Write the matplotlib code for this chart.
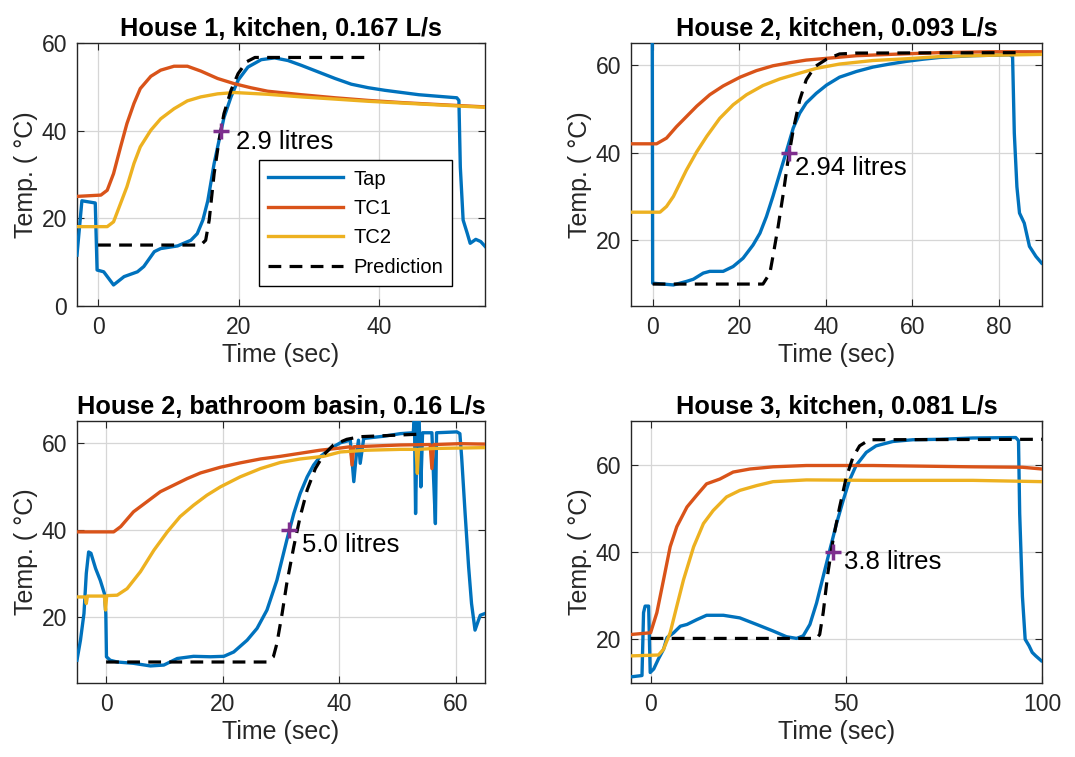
import matplotlib
matplotlib.use("Agg")
import matplotlib.pyplot as plt
import numpy as np

plt.rcParams['font.family'] = ['Liberation Sans', 'DejaVu Sans']

C_TAP = '#0072BD'
C_TC1 = '#D95319'
C_TC2 = '#EDB120'
C_MARK = '#7E2F8E'
C_AX = '#262626'

# ---- House 1, kitchen ----
h1_tap_t = [-3.0, -2.3, -0.4, -0.14, 0.8, 2.2, 3.7, 5.6, 6.5, 8.0, 8.9, 11.3, 13.2, 14.1, 14.9,
            15.6, 16.5, 17.2, 17.9, 18.9, 19.9, 21.3, 23.2, 25.1, 27.0, 28.9, 31.3, 33.7, 36.0,
            38.4, 40.8, 43.2, 45.6, 47.9, 51.0, 51.3, 51.5, 51.9, 52.5, 52.9, 53.7, 54.4, 55.3]
h1_tap_v = [11.6, 24.0, 23.5, 8.2, 7.8, 4.8, 6.7, 7.8, 9.0, 12.4, 13.1, 13.7, 15.0, 16.5, 19.6,
            24.0, 32.5, 37.8, 43.0, 47.7, 51.5, 54.5, 56.2, 56.6, 56.0, 54.9, 53.4, 51.9, 50.6,
            49.8, 49.2, 48.7, 48.2, 47.9, 47.5, 46.9, 31.7, 19.6, 16.5, 14.3, 15.2, 14.7, 13.1]
h1_tc1_t = [-3.0, 0.4, 1.3, 2.2, 3.2, 4.1, 5.1, 6.0, 7.5, 8.9, 10.8, 12.7, 14.6, 17.0, 19.4,
            21.7, 24.1, 26.5, 28.9, 33.7, 38.4, 43.2, 47.9, 55.3]
h1_tc1_v = [25.0, 25.3, 26.4, 30.2, 36.3, 41.6, 46.2, 49.6, 52.4, 53.8, 54.7, 54.7, 53.6, 51.9,
            50.7, 49.8, 49.0, 48.6, 48.2, 47.5, 46.9, 46.4, 46.0, 45.4]
h1_tc2_t = [-3.0, 1.3, 2.2, 3.2, 4.1, 5.1, 6.0, 7.5, 8.9, 10.8, 12.7, 14.6, 17.0, 19.4, 24.1,
            28.9, 33.7, 38.4, 43.2, 47.9, 55.3]
h1_tc2_v = [18.1, 18.1, 19.2, 23.4, 27.2, 32.5, 36.3, 40.1, 42.7, 45.0, 46.8, 47.7, 48.4, 48.7,
            48.3, 47.7, 47.2, 46.7, 46.3, 45.9, 45.3]
h1_pred_t = [0.0, 14.6, 15.3, 15.8, 16.5, 17.2, 17.9, 18.9, 19.9, 21.1, 22.3, 38.4]
h1_pred_v = [13.9, 13.9, 15.0, 19.6, 30.2, 37.8, 43.9, 49.2, 53.0, 55.7, 56.7, 56.7]
h1_mark = (17.5, 40.0)

# ---- House 2, kitchen ----
h2_tap_t = [-0.1, 0.0, 4.8, 7.8, 9.4, 11.7, 13.2, 16.3, 18.6, 20.9, 23.2, 24.8, 26.3, 27.8, 29.4,
            30.9, 32.5, 34.0, 35.5, 37.8, 40.2, 43.2, 47.1, 50.9, 54.8, 58.6, 62.5, 66.3, 74.0,
            82.5, 83.2, 83.6, 84.2, 84.8, 85.9, 87.1, 88.6, 89.9]
h2_tap_v = [70.0, 10.2, 9.8, 10.6, 11.1, 12.5, 12.9, 12.9, 14.0, 15.9, 18.9, 21.6, 25.4, 30.0, 35.3,
            40.2, 45.6, 49.0, 51.3, 53.5, 55.4, 57.2, 58.5, 59.5, 60.2, 60.8, 61.3, 61.7, 62.1,
            62.3, 61.9, 44.4, 32.2, 26.2, 23.9, 18.6, 16.3, 14.8]
h2_tc1_t = [-5.0, 0.9, 3.2, 5.5, 7.8, 10.2, 13.2, 16.3, 20.2, 24.0, 27.8, 31.7, 35.5, 40.2, 47.1,
            54.8, 66.3, 77.8, 90.0]
h2_tc1_v = [42.0, 42.0, 43.3, 45.9, 48.2, 50.6, 53.2, 55.2, 57.2, 58.7, 59.8, 60.5, 61.1, 61.5, 62.1,
            62.4, 62.8, 63.0, 63.0]
h2_tc2_t = [-5.0, 1.7, 3.2, 4.8, 6.3, 7.8, 10.2, 12.5, 15.5, 18.6, 21.7, 25.5, 29.4, 33.2, 37.8,
            43.2, 50.9, 58.6, 66.3, 77.8, 90.0]
h2_tc2_v = [26.4, 26.4, 27.7, 30.0, 33.0, 36.0, 40.2, 43.7, 47.8, 50.9, 53.2, 55.3, 56.8, 57.9, 59.2,
            60.2, 61.0, 61.4, 61.9, 62.2, 62.4]
h2_pred_t = [0.0, 25.5, 27.1, 27.8, 29.0, 30.2, 31.3, 32.5, 34.0, 35.5, 37.5, 40.2, 43.2, 47.1, 84.8]
h2_pred_v = [10.0, 10.0, 12.5, 16.3, 23.1, 30.7, 38.3, 45.2, 52.0, 56.6, 59.6, 61.3, 62.5, 62.7, 62.8]
h2_mark = (31.5, 40.0)

# ---- House 2, bathroom basin ----
h2b_tap_t = [-5.0, -4.4, -3.8, -3.4, -3.0, -2.6, -1.8, -1.0, -0.3, -0.05, 0.06, 0.7, 1.9, 4.7, 7.6,
             9.9, 12.2, 15.0, 17.9, 20.2, 21.9, 24.2, 25.9, 27.6, 29.3, 31.0, 32.2, 33.3, 34.5,
             35.6, 36.7, 38.5, 40.2, 41.9, 42.2, 42.5, 42.9, 43.3, 43.6, 44.2, 47.6, 50.5, 52.7,
             52.9, 53.1, 53.4, 53.7, 54.0, 54.3, 55.9, 56.2, 56.5, 56.7, 60.2, 60.7, 61.0, 61.6,
             62.2, 62.7, 63.3, 63.9, 64.2, 65.0]
h2b_tap_v = [10.2, 14.8, 20.9, 30.1, 35.0, 34.7, 31.2, 28.5, 25.5, 20.9, 11.0, 10.2, 9.8, 9.5, 8.9,
             9.1, 10.6, 11.1, 11.0, 11.1, 12.1, 14.8, 17.5, 21.7, 28.5, 37.7, 43.8, 48.4, 52.2,
             54.9, 56.8, 58.7, 60.0, 60.6, 56.0, 51.1, 56.8, 60.6, 55.3, 61.0, 61.5, 62.1, 62.3,
             66.0, 43.8, 66.0, 66.0, 49.9, 62.3, 62.3, 51.5, 41.5, 62.3, 62.5, 62.1, 56.8, 43.8,
             31.6, 23.2, 17.1, 19.4, 20.5, 20.9]
h2b_tc1_t = [-5.0, 1.3, 2.5, 4.7, 7.0, 9.3, 11.6, 13.9, 16.2, 19.6, 23.0, 26.5, 29.9, 33.3, 36.7,
             40.2, 41.9, 42.2, 42.5, 44.7, 50.5, 55.6, 55.9, 56.2, 60.7, 65.0]
h2b_tc1_v = [39.6, 39.6, 40.8, 44.2, 46.5, 48.8, 50.3, 51.8, 53.1, 54.4, 55.4, 56.3, 56.9, 57.6, 58.3,
             58.8, 59.1, 54.9, 59.1, 59.2, 59.5, 59.6, 54.1, 59.6, 59.8, 59.7]
h2b_tc2_t = [-5.0, -3.6, -3.4, -3.2, -0.3, -0.1, 0.1, 1.9, 3.6, 5.9, 8.2, 10.5, 12.7, 15.0, 17.3,
             19.6, 23.0, 26.5, 29.9, 33.3, 37.3, 40.2, 44.7, 50.5, 53.2, 53.4, 53.6, 56.2, 65.0]
h2b_tc2_v = [24.7, 24.7, 23.2, 24.9, 24.9, 21.7, 25.0, 25.1, 26.6, 30.5, 35.4, 39.6, 43.1, 45.7, 48.0,
             49.9, 52.2, 54.1, 55.5, 56.3, 56.9, 57.9, 58.3, 58.5, 58.5, 53.0, 58.5, 58.7, 58.9]
h2b_pred_t = [0.0, 27.6, 28.7, 29.3, 30.2, 31.0, 32.2, 33.3, 34.5, 35.9, 37.3, 39.0, 41.3, 43.6, 54.2]
h2b_pred_v = [9.8, 9.8, 11.0, 14.0, 20.9, 27.8, 36.2, 43.1, 49.2, 54.1, 57.2, 59.5, 60.8, 61.4, 62.0]
h2b_mark = (31.4, 40.0)

# ---- House 3, kitchen ----
h3_tap_t = [-5.0, -2.2, -1.8, -1.4, -0.5, -0.1, 0.8, 2.0, 3.3, 4.2, 5.9, 7.6, 9.3, 11.8, 14.3,
            18.6, 22.8, 27.1, 31.3, 34.7, 37.3, 39.0, 40.7, 42.4, 44.1, 45.8, 47.5, 49.2, 50.8,
            52.5, 55.1, 57.6, 61.9, 67.0, 73.8, 82.3, 93.3, 94.0, 94.3, 95.0, 95.7, 96.7, 97.5,
            98.4, 99.8]
h3_tap_v = [11.4, 11.7, 26.1, 27.6, 27.6, 12.4, 13.2, 15.5, 17.7, 20.4, 21.5, 23.0, 23.4, 24.5, 25.5,
            25.5, 24.9, 23.4, 21.9, 20.6, 20.2, 20.8, 23.4, 28.3, 34.4, 40.5, 46.5, 51.8, 56.4,
            59.8, 62.8, 64.3, 65.3, 65.7, 65.8, 66.1, 66.2, 65.5, 48.8, 29.8, 20.0, 18.5, 17.0,
            16.2, 15.1]
h3_tc1_t = [-5.0, 0.0, 1.6, 3.3, 5.0, 6.7, 9.3, 11.8, 14.3, 17.7, 21.1, 25.4, 31.3, 39.8, 56.8,
            82.3, 95.0, 100.0]
h3_tc1_v = [21.1, 21.5, 26.1, 33.6, 41.2, 45.8, 50.3, 53.0, 55.6, 56.7, 58.3, 59.0, 59.5, 59.8, 59.8,
            59.5, 59.4, 59.0]
h3_tc2_t = [-5.0, 2.0, 3.3, 5.0, 6.7, 8.4, 11.0, 13.5, 16.0, 19.4, 22.8, 27.1, 31.3, 39.8, 56.8,
            82.3, 100.0]
h3_tc2_v = [16.2, 16.4, 17.7, 21.5, 27.6, 33.6, 41.2, 46.5, 49.5, 52.6, 54.1, 55.2, 56.1, 56.5, 56.4,
            56.4, 56.1]
h3_pred_t = [0.0, 42.4, 43.2, 44.1, 45.3, 46.6, 48.3, 50.0, 51.7, 53.4, 55.9, 100.0]
h3_pred_v = [20.2, 20.2, 21.1, 26.1, 35.2, 42.7, 50.3, 57.1, 61.7, 64.3, 65.7, 65.8]
h3_mark = (46.6, 40.0)

panels = [
    dict(title='House 1, kitchen, 0.167 L/s',
         tap=(h1_tap_t, h1_tap_v), tc1=(h1_tc1_t, h1_tc1_v), tc2=(h1_tc2_t, h1_tc2_v),
         pred=(h1_pred_t, h1_pred_v), mark=h1_mark, note='2.9 litres', note_xy=(19.6, 37.5),
         xlim=(-3, 55), ylim=(0, 60), xticks=[0, 20, 40], yticks=[0, 20, 40, 60],
         rect=[0.0716, 0.5958, 0.3795, 0.3474], legend=True),
    dict(title='House 2, kitchen, 0.093 L/s',
         tap=(h2_tap_t, h2_tap_v), tc1=(h2_tc1_t, h2_tc1_v), tc2=(h2_tc2_t, h2_tc2_v),
         pred=(h2_pred_t, h2_pred_v), mark=h2_mark, note='2.94 litres', note_xy=(32.9, 36.4),
         xlim=(-5, 90), ylim=(5, 65), xticks=[0, 20, 40, 60, 80], yticks=[20, 40, 60],
         rect=[0.5870, 0.5958, 0.3823, 0.3474], legend=False),
    dict(title='House 2, bathroom basin, 0.16 L/s',
         tap=(h2b_tap_t, h2b_tap_v), tc1=(h2b_tc1_t, h2b_tc1_v), tc2=(h2b_tc2_t, h2b_tc2_v),
         pred=(h2b_pred_t, h2b_pred_v), mark=h2b_mark, note='5.0 litres', note_xy=(33.6, 36.6),
         xlim=(-5, 65), ylim=(5, 65), xticks=[0, 20, 40, 60], yticks=[20, 40, 60],
         rect=[0.0716, 0.0978, 0.3795, 0.3461], legend=False),
    dict(title='House 3, kitchen, 0.081 L/s',
         tap=(h3_tap_t, h3_tap_v), tc1=(h3_tc1_t, h3_tc1_v), tc2=(h3_tc2_t, h3_tc2_v),
         pred=(h3_pred_t, h3_pred_v), mark=h3_mark, note='3.8 litres', note_xy=(49.5, 37.6),
         xlim=(-5, 100), ylim=(10, 70), xticks=[0, 50, 100], yticks=[20, 40, 60],
         rect=[0.5870, 0.0978, 0.3823, 0.3461], legend=False),
]

fig = plt.figure(figsize=(10.75, 7.57), dpi=100)

for p in panels:
    ax = fig.add_axes(p['rect'])
    lw = 2.4
    ax.plot(*p['tap'], color=C_TAP, lw=lw, label='Tap', zorder=3)
    ax.plot(*p['tc1'], color=C_TC1, lw=lw, label='TC1', zorder=3)
    ax.plot(*p['tc2'], color=C_TC2, lw=lw, label='TC2', zorder=3)
    ax.plot(*p['pred'], color='black', lw=2.3, ls=(0, (4, 2.6)), label='Prediction', zorder=4)
    ax.plot(*p['mark'], marker='+', color=C_MARK, ms=12, mew=2.5, zorder=5)
    ax.text(*p['note_xy'], p['note'], fontsize=18.5, va='center', ha='left', color='black', zorder=6)

    ax.set_xlim(*p['xlim'])
    ax.set_ylim(*p['ylim'])
    ax.set_xticks(p['xticks'])
    ax.set_yticks(p['yticks'])
    ax.grid(True, color='#d6d6d6', lw=0.9)
    ax.set_axisbelow(True)
    ax.tick_params(direction='in', top=True, right=True, labelsize=16.5, colors=C_AX,
                   length=5, pad=7)
    for s in ax.spines.values():
        s.set_color(C_AX)
        s.set_linewidth(1.0)
    ax.set_title(p['title'], fontsize=18.2, fontweight='bold', pad=5)
    ax.set_xlabel('Time (sec)', fontsize=18, color=C_AX, labelpad=3)
    ax.set_ylabel('Temp. ( °C)', fontsize=18, color=C_AX, labelpad=3)

    if p['legend']:
        leg = ax.legend(loc='lower right', bbox_to_anchor=(0.919, 0.076), fontsize=14.5,
                        fancybox=False, framealpha=1, edgecolor='black', handlelength=3.7,
                        borderpad=0.45, labelspacing=0.52, handletextpad=0.5, borderaxespad=0)
        leg.get_frame().set_linewidth(1.0)

fig.savefig('out.png', dpi=100)
